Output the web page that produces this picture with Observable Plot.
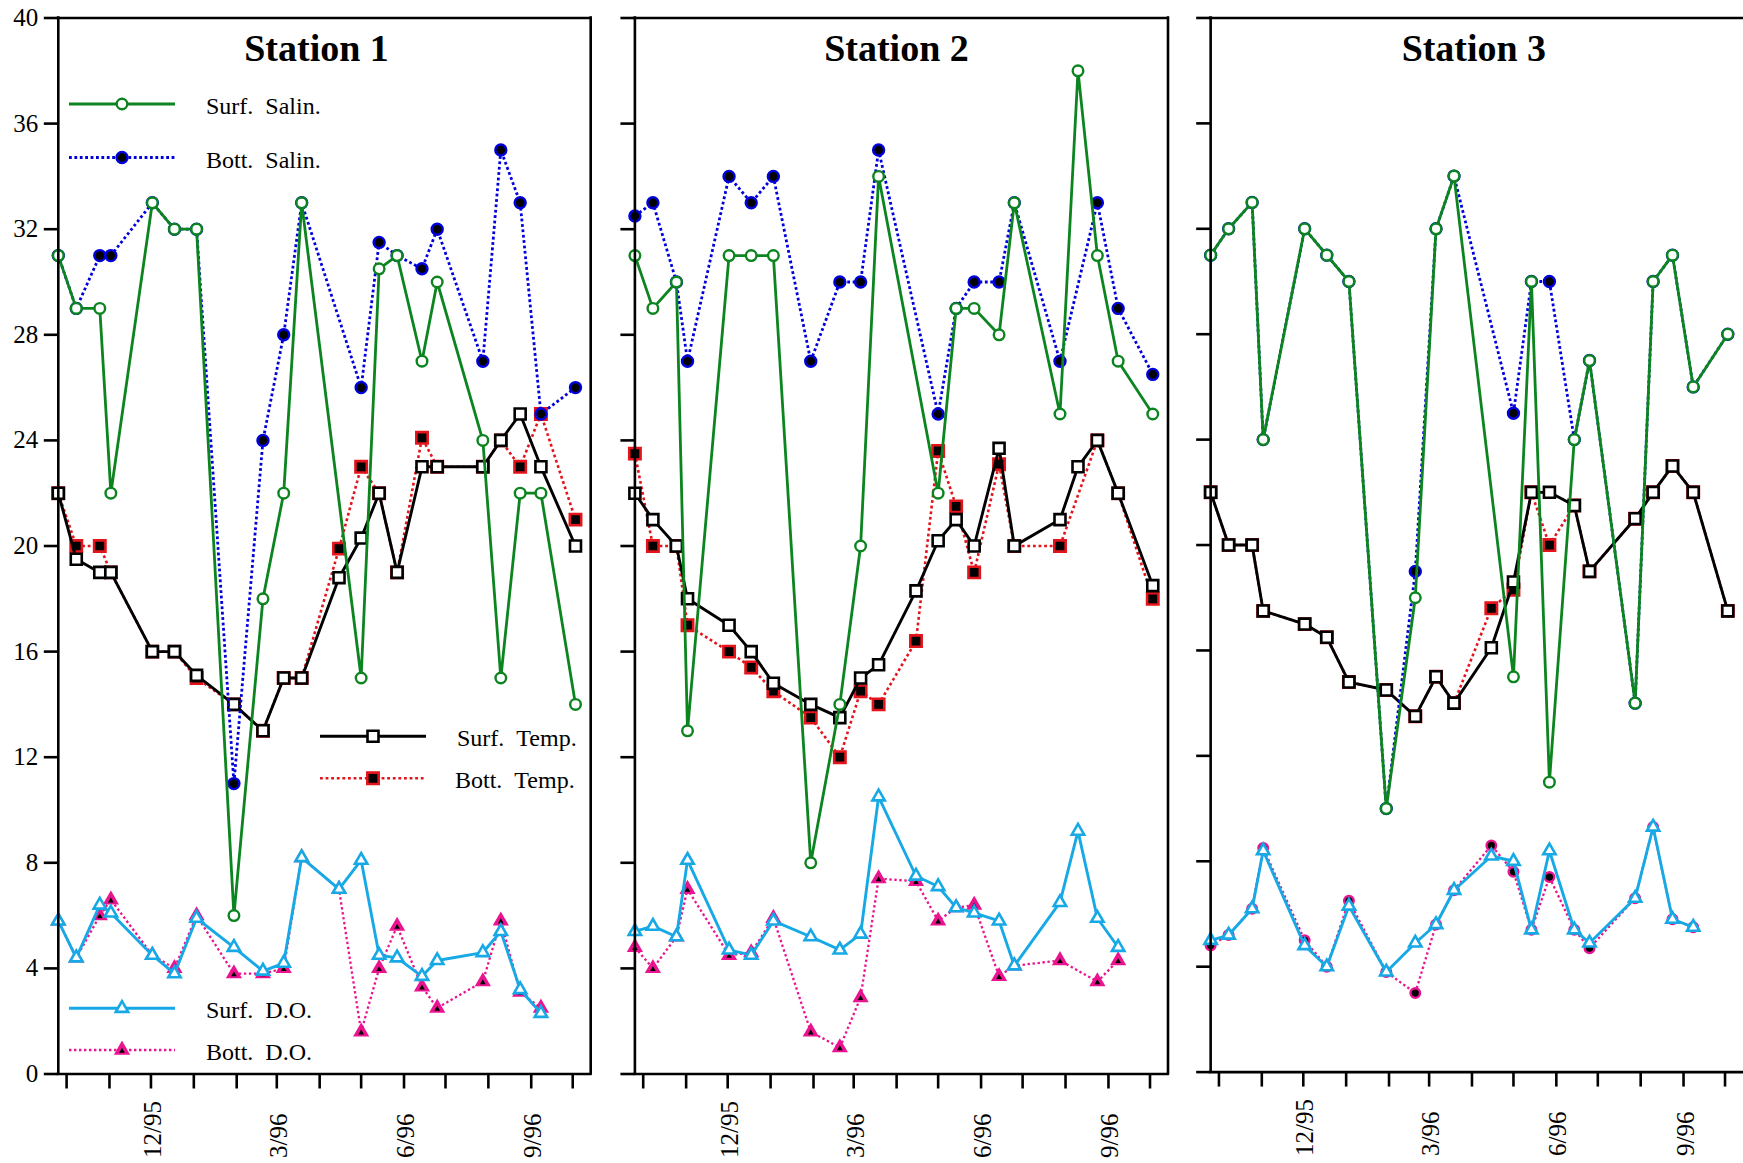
<!DOCTYPE html>
<html><head><meta charset="utf-8">
<script src="https://cdn.jsdelivr.net/npm/d3@7"></script>
<script src="https://cdn.jsdelivr.net/npm/@observablehq/plot@0.6"></script>
<style>
html,body{margin:0;padding:0;background:#fff;}
#chart{position:relative;width:1743px;height:1163px;overflow:hidden;font-family:'Liberation Serif','Times New Roman',serif;}
.panel{position:absolute;top:0;}
</style></head><body><div id="chart"></div>
<script>
// ---------------- DATA ----------------
const stations = ["Station 1", "Station 2", "Station 3"];
const dates = ["1995-09-25","1995-10-08","1995-10-25","1995-11-02","1995-12-02","1995-12-18",
  "1996-01-03","1996-01-30","1996-02-20","1996-03-06","1996-03-19","1996-04-15","1996-05-01",
  "1996-05-14","1996-05-27","1996-06-14","1996-06-25","1996-07-28","1996-08-10","1996-08-24",
  "1996-09-08","1996-10-03"];

// Station 1
const surfSalin1 = [31,29,29,22,33,32,32,6,18,22,33,null,15,30.5,31,27,30,24,15,22,22,14];
const bottSalin1 = [31,29,31,31,33,32,32,11,24,28,33,null,26,31.5,31,30.5,32,27,35,33,25,26];
const surfTemp1  = [22,19.5,19,19,16,16,15.1,14,13,15,15,18.8,20.3,22,19,23,23,23,24,25,23,20];
const bottTemp1  = [22,20,20,19,16,16,15,14,13,15,15,19.9,23,22,19,24.1,23,23,24,23,25,21];
const surfDO1    = [5.8,4.4,6.4,6.1,4.5,3.8,5.9,4.8,3.9,4.2,8.2,7.0,8.1,4.5,4.4,3.7,4.3,4.6,5.4,3.2,2.3,null];
const bottDO1    = [5.8,4.4,6.0,6.6,4.5,4.0,6.0,3.8,3.8,4.0,8.2,7.0,1.6,4.0,5.6,3.3,2.5,3.5,5.8,3.1,2.5,null];

// Station 2
const surfSalin2 = [31,29,30,13,31,31,31,8,14,20,34,null,22,29,29,28,33,25,38,31,27,25];
const bottSalin2 = [32.5,33,30,27,34,33,34,27,30,30,35,null,25,29,30,30,33,27,null,33,29,26.5];
const surfTemp2  = [22,21,20,18,17,16,14.8,14,13.5,15,15.5,18.3,20.2,21,20,23.7,20,21,23,24,22,18.5];
const bottTemp2  = [23.5,20,20,17,16,15.4,14.5,13.5,12,14.5,14,16.4,23.6,21.5,19,23.1,20,20,null,24,22,18];
const surfDO2    = [5.4,5.6,5.2,8.1,4.7,4.5,5.8,5.2,4.7,5.3,10.5,7.5,7.1,6.3,6.1,5.8,4.1,6.5,9.2,5.9,4.8,null];
const bottDO2    = [4.8,4.0,5.2,7.0,4.5,4.6,5.9,1.6,1.0,2.9,7.4,7.3,5.8,6.3,6.4,3.7,4.1,4.3,null,3.5,4.3,null];

// Station 3
const surfSalin3 = [31,32,33,24,32,31,30,10,18,32,34,null,15,30,11,24,27,14,30,31,26,28];
const bottSalin3 = [31,32,33,24,32,31,30,10,19,32,34,null,25,30,30,24,27,14,30,31,26,28];
const surfTemp3  = [22,20,20,17.5,17,16.5,14.8,14.5,13.5,15,14,16.1,18.6,22,22,21.5,19,21,22,23,22,17.5];
const bottTemp3  = [22,20,20,17.5,17,16.5,14.8,14.5,13.5,15,14,17.6,18.3,22,20,21.5,19,21,22,23,22,17.5];
const surfDO3    = [5.0,5.2,6.2,8.4,4.8,4.0,6.3,3.8,4.9,5.6,6.9,8.2,8.0,5.4,8.4,5.4,4.9,6.6,9.3,5.8,5.5,null];
const bottDO3    = [4.8,5.2,6.2,8.5,5.0,4.0,6.5,3.8,3.0,5.6,6.9,8.6,7.6,5.4,7.4,5.4,4.7,6.6,9.3,5.8,5.5,null];

const seriesKeys   = ["surfSalin","bottSalin","surfTemp","bottTemp","surfDO","bottDO"];
const seriesLabels = ["Surf.\u00a0\u00a0Salin.","Bott.\u00a0\u00a0Salin.","Surf.\u00a0\u00a0Temp.","Bott.\u00a0\u00a0Temp.","Surf.\u00a0\u00a0D.O.","Bott.\u00a0\u00a0D.O."];

const yDomain = [0, 40];
const yTicks = [0,4,8,12,16,20,24,28,32,36,40];
const xDomain = ["1995-09-25","1996-10-14"];
const monthTicks = ["1995-10-01","1995-11-01","1995-12-01","1996-01-01","1996-02-01","1996-03-01",
  "1996-04-01","1996-05-01","1996-06-01","1996-07-01","1996-08-01","1996-09-01","1996-10-01"];
const tickLabelDates = ["1995-12-01","1996-03-01","1996-06-01","1996-09-01"];
const tickLabels = ["12/95","3/96","6/96","9/96"];

// ---------------- ASSEMBLY ----------------
const stationData = [
  {surfSalin: surfSalin1, bottSalin: bottSalin1, surfTemp: surfTemp1, bottTemp: bottTemp1, surfDO: surfDO1, bottDO: bottDO1},
  {surfSalin: surfSalin2, bottSalin: bottSalin2, surfTemp: surfTemp2, bottTemp: bottTemp2, surfDO: surfDO2, bottDO: bottDO2},
  {surfSalin: surfSalin3, bottSalin: bottSalin3, surfTemp: surfTemp3, bottTemp: bottTemp3, surfDO: surfDO3, bottDO: bottDO3}
];

const GREEN = "#0c8420", BLUE = "#0000dd", RED = "#e3141b", CYAN = "#17a9e5", MAGENTA = "#ea1490";
const styles = {
  surfSalin: {color: GREEN, width: 2.8, dash: null, symbol: "circle", r: 5.3, fill: "white", stroke: GREEN, sw: 2.4},
  bottSalin: {color: BLUE, width: 2.8, dash: "2.8,2.6", symbol: "circle", r: 5.5, fill: "black", stroke: BLUE, sw: 2.4},
  surfTemp:  {color: "black", width: 2.9, dash: null, symbol: "square", r: 6.2, fill: "white", stroke: "black", sw: 2.6},
  bottTemp:  {color: RED, width: 2.6, dash: "2.8,2.8", symbol: "square", r: 6.4, fill: "black", stroke: RED, sw: 2.6},
  surfDO:    {color: CYAN, width: 2.9, dash: null, symbol: "triangle", r: 4.6, fill: "white", stroke: CYAN, sw: 2.6},
  bottDO:    {color: MAGENTA, width: 2.3, dash: "2.4,2.6", symbol: "triangle", r: 5.0, fill: MAGENTA, stroke: MAGENTA, sw: 1.6, inner: true}
};
const bottDOStation3 = {color: MAGENTA, width: 2.3, dash: "2.4,2.6", symbol: "circle", r: 4.8, fill: "black", stroke: MAGENTA, sw: 2.4};
const drawOrder = ["bottDO","surfDO","bottTemp","surfTemp","bottSalin","surfSalin"];

const panelLayout = [
  {left: 0,    width: 600, marginLeft: 57.8, marginRight: 9.8,  yLabels: true,  legend: true,  rightBorder: true,  titleDx: -8},
  {left: 600,  width: 580, marginLeft: 34.4, marginRight: 12.5, yLabels: false, legend: false, rightBorder: true,  titleDx: -5},
  {left: 1180, width: 564, marginLeft: 30.2, marginRight: 0.5,  yLabels: false, legend: false, rightBorder: false, titleDx: -3}
];
const H = 1163, marginTop = 17.5, marginBottom = 89.5;
const FONT = "'Liberation Serif','Times New Roman',serif";

function seriesMarks(values, st) {
  const rows = dates.map((d, i) => ({date: new Date(d), value: values[i]})).filter(r => r.value != null);
  const m = [
    Plot.line(rows, {x: "date", y: "value", stroke: st.color, strokeWidth: st.width,
      strokeDasharray: st.dash || undefined, strokeLinecap: st.dash ? "butt" : "round", strokeLinejoin: "round"}),
    Plot.dot(rows, {x: "date", y: "value", symbol: st.symbol, r: st.r, fill: st.fill, stroke: st.stroke, strokeWidth: st.sw})
  ];
  if (st.inner) m.push(Plot.dot(rows, {x: "date", y: "value", symbol: "triangle", r: 2.1, fill: "black", stroke: "none", dy: 1}));
  return m;
}

function makePanel(k) {
  const L = panelLayout[k];
  const S = stationData[k];
  const marks = [];
  for (const key of drawOrder) {
    const st = (k === 2 && key === "bottDO") ? bottDOStation3 : styles[key];
    marks.push(...seriesMarks(S[key], st));
  }
  marks.push(Plot.axisY(yTicks, {tickSize: 14, tickPadding: 6, strokeWidth: 2.6, fontSize: 25, label: null,
    tickFormat: L.yLabels ? (d => String(d)) : (() => "")}));
  marks.push(Plot.axisX(monthTicks.map(d => new Date(d)), {tickSize: 15, strokeWidth: 2.6, label: null, tickFormat: () => ""}));
  marks.push(Plot.text(tickLabelDates.map((d, i) => ({date: new Date(d), label: tickLabels[i]})),
    {x: "date", text: "label", frameAnchor: "bottom", rotate: -90, textAnchor: "start", lineAnchor: "middle", dy: 84, dx: 2, fontSize: 25}));
  marks.push(Plot.ruleY(yDomain, {stroke: "black", strokeWidth: 2.6, strokeLinecap: "square"}));
  marks.push(Plot.ruleX((L.rightBorder ? xDomain : [xDomain[0]]).map(d => new Date(d)), {stroke: "black", strokeWidth: 2.6, strokeLinecap: "square"}));
  marks.push(Plot.text([stations[k]], {text: d => d, frameAnchor: "top", lineAnchor: "top", dy: 16, dx: L.titleDx, fontSize: 38, fontWeight: "bold"}));

  return Plot.plot({
    width: L.width, height: H,
    marginLeft: L.marginLeft, marginRight: L.marginRight, marginTop, marginBottom,
    x: {type: "utc", domain: xDomain.map(d => new Date(d)), label: null},
    y: {domain: yDomain, label: null},
    style: {background: "transparent", overflow: "visible", fontFamily: FONT, fontSize: "25px", color: "black"},
    marks
  });
}

// Legend layout (pixel positions inside panel 1)
const legendLayout = {
  surfSalin: {x1: 69,  x2: 175, mx: 122, y: 104,    tx: 206},
  bottSalin: {x1: 69,  x2: 175, mx: 122, y: 157.5,  tx: 206},
  surfTemp:  {x1: 320, x2: 426, mx: 373, y: 736.3,  tx: 457},
  bottTemp:  {x1: 320, x2: 426, mx: 373, y: 778.3,  tx: 455},
  surfDO:    {x1: 69,  x2: 175, mx: 122, y: 1008.3, tx: 206},
  bottDO:    {x1: 69,  x2: 175, mx: 122, y: 1050,   tx: 206}
};
const symbolMap = {circle: d3.symbolCircle, square: d3.symbolSquare, triangle: d3.symbolTriangle};

function addLegend(svg) {
  const g = d3.select(svg).append("g").attr("text-anchor", "start");
  seriesKeys.forEach((key, i) => {
    const st = styles[key], P = legendLayout[key];
    g.append("line").attr("x1", P.x1).attr("x2", P.x2).attr("y1", P.y).attr("y2", P.y)
      .attr("stroke", st.color).attr("stroke-width", st.width)
      .attr("stroke-dasharray", st.dash || null);
    g.append("path").attr("transform", `translate(${P.mx},${P.y})`)
      .attr("d", d3.symbol(symbolMap[st.symbol], Math.PI * st.r * st.r)())
      .attr("fill", st.fill).attr("stroke", st.stroke).attr("stroke-width", st.sw);
    if (st.inner) g.append("path").attr("transform", `translate(${P.mx},${P.y + 1})`)
      .attr("d", d3.symbol(d3.symbolTriangle, Math.PI * 2.1 * 2.1)()).attr("fill", "black");
    g.append("text").attr("x", P.tx).attr("y", P.y + 10).attr("font-size", 24)
      .attr("text-anchor", "start").attr("font-family", FONT).attr("fill", "black").text(seriesLabels[i]);
  });
}

const chart = document.getElementById("chart");
for (let k = 0; k < 3; k++) {
  const div = document.createElement("div");
  div.className = "panel";
  div.style.left = panelLayout[k].left + "px";
  const svg = makePanel(k);
  if (panelLayout[k].legend) addLegend(svg);
  div.appendChild(svg);
  chart.appendChild(div);
}
</script>
</body></html>
